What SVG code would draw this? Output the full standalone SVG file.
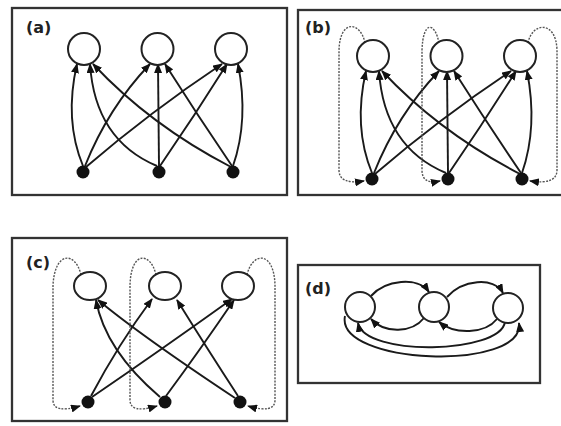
<svg xmlns="http://www.w3.org/2000/svg" width="561" height="426" viewBox="0 0 561 426">
<defs>
<marker id="ah" viewBox="0 0 10 8" refX="9" refY="4" markerWidth="10" markerHeight="8" markerUnits="userSpaceOnUse" orient="auto">
<path d="M0,0 L10,4 L0,8 z" fill="#111"/>
</marker>
</defs>
<style>
.box{fill:none;stroke:#333;stroke-width:2.3}
.lbl{font-family:"DejaVu Sans",sans-serif;font-weight:bold;font-size:16px;fill:#222}
.n{fill:#fff;stroke:#222;stroke-width:2}
.d{fill:#111}
.e{fill:none;stroke:#1a1a1a;stroke-width:1.9;marker-end:url(#ah)}
.l{fill:none;stroke:#555;stroke-width:1.4;stroke-dasharray:2 1.3;marker-end:url(#ah)}
</style>
<rect width="561" height="426" fill="#fff"/>

<!-- Panel a -->
<g id="panel-a">
<rect class="box" x="12" y="8" width="275" height="187"/>
<text class="lbl" x="26" y="33">(a)</text>
<g id="a-connectors">
<path class="e" d="M83,166 Q64,120 77,64"/>
<path class="e" d="M85,166 Q108,108 150,64"/>
<path class="e" d="M86,167 Q150,112 222,64"/>
<path class="e" d="M157,166 Q95,140 90,64"/>
<path class="e" d="M159,166 L158,64"/>
<path class="e" d="M160,166 Q195,115 227,64"/>
<path class="e" d="M231,167 Q150,125 93,64"/>
<path class="e" d="M232,166 Q198,116 165,64"/>
<path class="e" d="M233,166 Q249,120 238,64"/>
</g>
<g id="a-top1"><circle class="n" cx="84" cy="49" r="16"/></g>
<g id="a-top2"><circle class="n" cx="157.5" cy="49" r="16"/></g>
<g id="a-top3"><circle class="n" cx="231" cy="49" r="16"/></g>
<g id="a-bot1"><circle class="d" cx="83" cy="172" r="6.5"/></g>
<g id="a-bot2"><circle class="d" cx="159" cy="172" r="6.5"/></g>
<g id="a-bot3"><circle class="d" cx="233" cy="172" r="6.5"/></g>
</g>

<!-- Panel b -->
<g id="panel-b">
<rect class="box" x="298" y="10" width="270" height="185"/>
<text class="lbl" x="305" y="33">(b)</text>
<g id="b-connectors">
<path class="e" d="M372,173 Q353,127 366,71"/>
<path class="e" d="M374,173 Q397,115 439,71"/>
<path class="e" d="M375,174 Q439,119 511,71"/>
<path class="e" d="M446,173 Q384,147 379,71"/>
<path class="e" d="M448,173 L447,71"/>
<path class="e" d="M449,173 Q484,122 516,71"/>
<path class="e" d="M520,174 Q439,132 382,71"/>
<path class="e" d="M521,173 Q487,123 454,71"/>
<path class="e" d="M522,173 Q538,127 527,71"/>
<path class="l" d="M365,43 C361,22 340,18 339,50 L339,170 Q339,185 364,181"/>
<path class="l" d="M439,43 C435,22 423,20 422,50 L422,170 Q422,185 440,181"/>
<path class="l" d="M528,43 C532,22 556,20 557,50 L557,170 Q557,185 530,181"/>
</g>
<g id="b-top1"><circle class="n" cx="373" cy="56" r="16"/></g>
<g id="b-top2"><circle class="n" cx="446.5" cy="56" r="16"/></g>
<g id="b-top3"><circle class="n" cx="520" cy="56" r="16"/></g>
<g id="b-bot1"><circle class="d" cx="372" cy="179" r="6.5"/></g>
<g id="b-bot2"><circle class="d" cx="448" cy="179" r="6.5"/></g>
<g id="b-bot3"><circle class="d" cx="522" cy="179" r="6.5"/></g>
</g>

<!-- Panel c -->
<g id="panel-c">
<rect class="box" x="12" y="238" width="275" height="183"/>
<text class="lbl" x="26" y="268">(c)</text>
<g id="c-connectors">
<path class="e" d="M91,396 Q118,345 152,299"/>
<path class="e" d="M92,397 Q158,352 232,299"/>
<path class="e" d="M160,397 Q105,350 96,300"/>
<path class="e" d="M166,396 Q200,350 234,300"/>
<path class="e" d="M235,398 Q140,335 98,300"/>
<path class="e" d="M238,396 Q208,350 177,300"/>
<path class="l" d="M81,275 C76,252 55,250 53,285 L53,400 Q53,414 80,406"/>
<path class="l" d="M156,275 C151,252 131,250 130,285 L130,400 Q130,414 157,406"/>
<path class="l" d="M247,275 C252,252 274,250 275,285 L275,400 Q275,414 248,406"/>
</g>
<g id="c-top1"><ellipse class="n" cx="90" cy="286" rx="16" ry="14"/></g>
<g id="c-top2"><ellipse class="n" cx="165" cy="286" rx="16" ry="14"/></g>
<g id="c-top3"><ellipse class="n" cx="238" cy="286" rx="16" ry="14"/></g>
<g id="c-bot1"><circle class="d" cx="88" cy="402" r="6.5"/></g>
<g id="c-bot2"><circle class="d" cx="165" cy="402" r="6.5"/></g>
<g id="c-bot3"><circle class="d" cx="240" cy="402" r="6.5"/></g>
</g>

<!-- Panel d -->
<g id="panel-d">
<rect class="box" x="298" y="265" width="242" height="118"/>
<text class="lbl" x="305" y="294">(d)</text>
<g id="d-connectors">
<path class="e" d="M371,296 C385,280 418,276 429,292"/>
<path class="e" d="M447,297 C462,280 494,276 503,293"/>
<path class="e" d="M424,318 C412,333 385,334 371,319"/>
<path class="e" d="M497,319 C485,334 455,335 439,322"/>
<path class="e" d="M505,322 C500,354 365,357 358,323"/>
<path class="e" d="M345,316 C335,365 525,372 519,323"/>
</g>
<g id="d-n1"><circle class="n" cx="360" cy="307" r="15"/></g>
<g id="d-n2"><circle class="n" cx="434" cy="307" r="15"/></g>
<g id="d-n3"><circle class="n" cx="508" cy="308" r="15"/></g>
</g>
</svg>
